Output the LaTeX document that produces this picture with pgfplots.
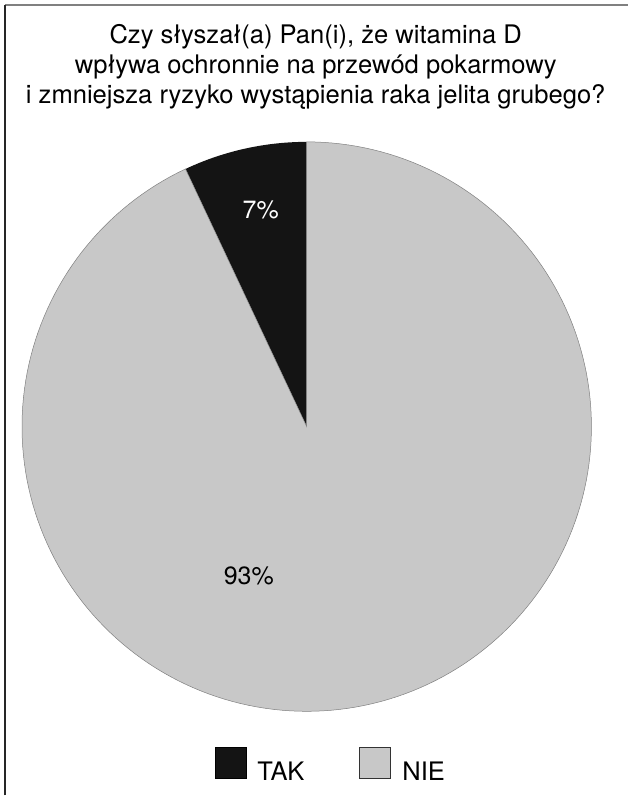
\documentclass[border=0pt]{standalone}
\usepackage{pgfplots}
\pgfplotsset{compat=1.18}
\usepackage{pgfplotstable}
\usepackage{fontspec}
\setmainfont{TeX Gyre Heros}
\definecolor{pieblack}{HTML}{141414}
\definecolor{piegray}{HTML}{C8C8C8}
\pgfplotstableread{
label value
TAK 7
NIE 93
}\piedata
\begin{document}
\begin{tikzpicture}
\pgfplotstablegetelem{0}{value}\of\piedata \let\vtak\pgfplotsretval
\pgfplotstablegetelem{1}{value}\of\piedata \let\vnie\pgfplotsretval
\pgfmathsetmacro\atak{90+3.6*\vtak}
\pgfmathsetmacro\anie{\atak+3.6*\vnie}
\begin{axis}[
  x=1pt, y=1pt, xmin=0, xmax=629, ymin=0, ymax=796,
  scale only axis, axis lines=none, clip=false,
  anchor=origin, at={(0,0)},
  legend columns=2,
  legend style={draw=none, fill=none, at={(axis cs:215,30)}, anchor=west,
    font=\fontsize{25.5}{29}\selectfont, inner sep=0pt,
    /tikz/every odd column/.append style={column sep=9pt},
    /tikz/every even column/.append style={column sep=53pt}},
  legend image code/.code={\draw[#1] (0pt,-7pt) rectangle (31pt,24pt);},
]
\path (axis cs:0,0) rectangle (axis cs:629,796);
\addplot[fill=pieblack, draw=none, domain=90:\atak, samples=30]
  ({307+285*cos(x)},{369+285*sin(x)}) -- (axis cs:307,369) -- cycle;
\addlegendentry{TAK}
\addplot[fill=piegray, draw=black!50, line width=0.5pt, domain=\atak:\anie, samples=200,
  legend image code/.code={\draw[fill=piegray, draw=black!80, line width=1pt] (0pt,-7pt) rectangle (31pt,24pt);}]
  ({307+285*cos(x)},{369+285*sin(x)}) -- (axis cs:307,369) -- cycle;
\addlegendentry{NIE}
\node[font=\fontsize{25}{29}\selectfont, white, anchor=base] at (axis cs:261,577) {\vtak\%};
\node[font=\fontsize{25}{29}\selectfont, black, anchor=base] at (axis cs:249,211) {\vnie\%};
\node[font=\fontsize{25.6}{30}\selectfont, anchor=base] at (axis cs:316,752) {Czy słyszał(a) Pan(i), że witamina D};
\node[font=\fontsize{25.6}{30}\selectfont, anchor=base] at (axis cs:316,722) {wpływa ochronnie na przewód pokarmowy};
\node[font=\fontsize{25.6}{30}\selectfont, anchor=base] at (axis cs:316,692) {i zmniejsza ryzyko wystąpienia raka jelita grubego?};
\draw[gray, line width=1.2pt] (axis cs:5,791) -- (axis cs:629,791);
\draw[black!85, line width=1.5pt] (axis cs:5,0) -- (axis cs:5,791);
\end{axis}
\end{tikzpicture}
\end{document}
